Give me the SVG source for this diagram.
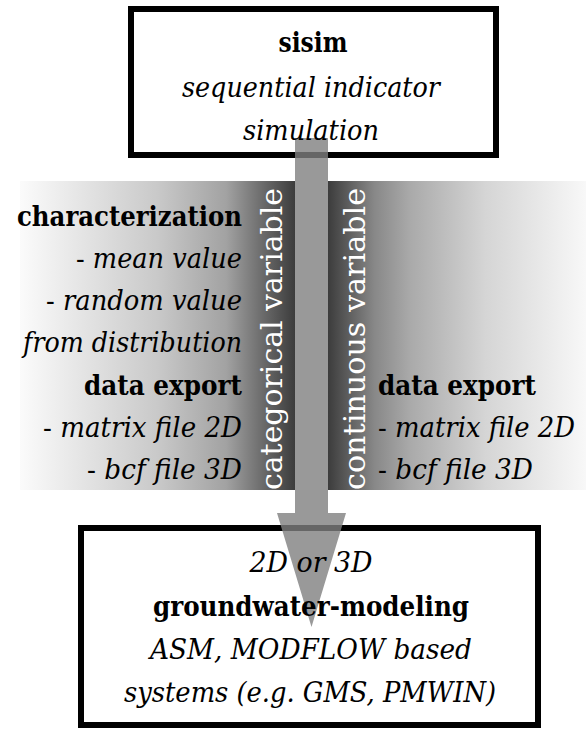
<svg xmlns="http://www.w3.org/2000/svg" width="586" height="733" viewBox="0 0 586 733">
<defs>
<linearGradient id="gl" x1="20" y1="0" x2="295" y2="0" gradientUnits="userSpaceOnUse">
<stop offset="0" stop-color="#fbfbfb"/>
<stop offset="0.5" stop-color="#c9c9c9"/>
<stop offset="0.75" stop-color="#a2a2a2"/>
<stop offset="0.88" stop-color="#6c6c6c"/>
<stop offset="1" stop-color="#3c3c3c"/>
</linearGradient>
<linearGradient id="gr" x1="328" y1="0" x2="586" y2="0" gradientUnits="userSpaceOnUse">
<stop offset="0" stop-color="#3c3c3c"/>
<stop offset="0.18" stop-color="#888888"/>
<stop offset="0.32" stop-color="#aaaaaa"/>
<stop offset="0.61" stop-color="#d5d5d5"/>
<stop offset="1" stop-color="#f8f8f8"/>
</linearGradient>
<style>
text{font-family:"DejaVu Serif",serif}
.t{font-size:28px;fill:#000}
.b{font-weight:bold}
.i{font-style:italic}
.v{font-size:30px;fill:#fff;text-anchor:start}
.box{fill:#fff;stroke:#000;stroke-width:6}
</style>
</defs>
<g id="bands">
<rect x="20" y="181" width="275" height="309" fill="url(#gl)"/>
<rect x="328" y="181" width="258" height="309" fill="url(#gr)"/>
</g>
<g id="sisim">
<rect class="box" x="131" y="9" width="365" height="146"/>
</g>
<g id="groundwater">
<rect class="box" x="81" y="528" width="457" height="197"/>
</g>
<g id="connectors">
<path d="M295,138 H328 V513 H346 L311.5,627 L277,513 H295 Z" fill="#808080" fill-opacity="0.8"/>
</g>
<g id="sisim-text" text-anchor="middle">
<text class="t b" x="313" y="52" textLength="69" lengthAdjust="spacingAndGlyphs">sisim</text>
<text class="t i" x="311" y="97" textLength="258" lengthAdjust="spacingAndGlyphs">sequential indicator</text>
<text class="t i" x="311" y="140" textLength="136" lengthAdjust="spacingAndGlyphs">simulation</text>
</g>
<g id="categorical">
<text class="t b" text-anchor="end" x="242" y="226" textLength="225" lengthAdjust="spacingAndGlyphs">characterization</text>
<text class="t" text-anchor="end" x="242" y="268" textLength="166" lengthAdjust="spacingAndGlyphs">- <tspan class="i">mean value</tspan></text>
<text class="t" text-anchor="end" x="242" y="310" textLength="196" lengthAdjust="spacingAndGlyphs">- <tspan class="i">random value</tspan></text>
<text class="t i" text-anchor="end" x="242" y="352" textLength="219" lengthAdjust="spacingAndGlyphs">from distribution</text>
<text class="t b" text-anchor="end" x="242" y="395" textLength="158" lengthAdjust="spacingAndGlyphs">data export</text>
<text class="t" text-anchor="end" x="242" y="437" textLength="199" lengthAdjust="spacingAndGlyphs">- <tspan class="i">matrix file 2D</tspan></text>
<text class="t" text-anchor="end" x="242" y="479" textLength="155" lengthAdjust="spacingAndGlyphs">- <tspan class="i">bcf file 3D</tspan></text>
<text class="v" transform="translate(282,490) rotate(-90)" textLength="302" lengthAdjust="spacingAndGlyphs">categorical variable</text>
</g>
<g id="continuous">
<text class="v" transform="translate(365,490) rotate(-90)" textLength="302" lengthAdjust="spacingAndGlyphs">continuous variable</text>
<text class="t b" x="378" y="395" textLength="158" lengthAdjust="spacingAndGlyphs">data export</text>
<text class="t" x="378" y="437" textLength="197" lengthAdjust="spacingAndGlyphs">- <tspan class="i">matrix file 2D</tspan></text>
<text class="t" x="378" y="479" textLength="155" lengthAdjust="spacingAndGlyphs">- <tspan class="i">bcf file 3D</tspan></text>
</g>
<g id="groundwater-text" text-anchor="middle">
<text class="t i" x="311" y="572" textLength="123" lengthAdjust="spacingAndGlyphs">2D or 3D</text>
<text class="t b" x="311" y="616" textLength="316" lengthAdjust="spacingAndGlyphs">groundwater-modeling</text>
<text class="t i" x="311" y="659" textLength="322" lengthAdjust="spacingAndGlyphs">ASM, MODFLOW based</text>
<text class="t i" x="310" y="702" textLength="372" lengthAdjust="spacingAndGlyphs">systems (e.g. GMS, PMWIN)</text>
</g>
</svg>
